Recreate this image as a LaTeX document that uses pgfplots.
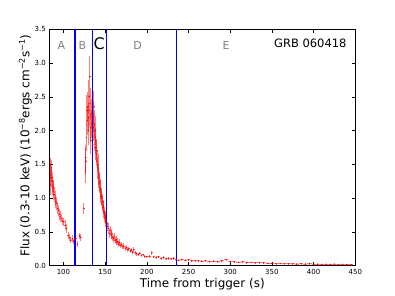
\documentclass[border=0pt]{standalone}
\usepackage{fontspec}
\setmainfont{DejaVu Sans}
\usepackage{pgfplots}
\usepackage{pgfplotstable}
\pgfplotsset{compat=1.18}
\pgfplotstableread{
x y ex ey
84.0 1.20 0.25 0.15
84.5 1.35 0.25 0.17
85.0 1.45 0.25 0.15
85.5 1.40 0.25 0.16
86.0 1.30 0.25 0.15
86.5 1.18 0.25 0.14
87.0 1.25 0.25 0.14
87.5 1.10 0.25 0.13
88.0 1.15 0.3 0.12
89.0 1.05 0.5 0.11
90.0 1.00 0.5 0.10
91.0 0.95 0.5 0.10
92.0 0.92 0.5 0.09
93.0 0.85 0.5 0.09
94.0 0.82 0.5 0.08
95.0 0.76 0.5 0.08
96.0 0.73 0.5 0.08
97.5 0.70 1.0 0.06
99.0 0.66 0.5 0.06
100.5 0.65 1.0 0.06
102.0 0.60 0.8 0.07
103.5 0.55 0.8 0.06
105.5 0.45 1.0 0.05
107.5 0.42 1.0 0.05
109.0 0.38 0.8 0.05
110.5 0.40 0.8 0.05
112.0 0.36 0.8 0.04
113.5 0.39 0.8 0.05
115.0 0.40 0.8 0.06
116.5 0.32 0.8 0.05
119.0 0.44 0.8 0.05
120.5 0.42 0.8 0.05
124.5 0.85 0.3 0.08
126.0 1.40 0.25 0.18
126.5 1.60 0.25 0.18
127.0 1.55 0.25 0.19
127.5 1.90 0.25 0.20
128.0 2.30 0.25 0.23
128.5 2.15 0.25 0.21
129.0 2.35 0.25 0.22
129.5 2.00 0.25 0.21
130.0 2.20 0.25 0.22
130.5 2.50 0.25 0.25
131.0 2.30 0.25 0.23
131.5 2.80 0.25 0.30
132.0 2.40 0.25 0.23
132.5 2.05 0.25 0.21
133.0 1.85 0.25 0.20
133.5 2.10 0.25 0.21
134.0 2.25 0.25 0.22
134.5 1.95 0.25 0.20
135.0 1.80 0.25 0.20
135.5 2.05 0.25 0.21
136.0 2.20 0.25 0.22
136.5 2.35 0.25 0.23
137.0 2.10 0.25 0.21
137.5 1.90 0.25 0.20
138.0 2.00 0.25 0.21
138.5 1.75 0.25 0.19
139.0 1.85 0.25 0.19
139.5 1.65 0.25 0.18
140.0 1.70 0.25 0.18
140.5 1.55 0.25 0.17
141.0 1.45 0.25 0.16
141.5 1.50 0.25 0.16
142.0 1.35 0.25 0.15
142.5 1.30 0.25 0.15
143.0 1.22 0.25 0.14
143.5 1.25 0.25 0.14
144.0 1.12 0.25 0.13
144.5 1.15 0.25 0.13
145.0 1.05 0.25 0.12
145.5 1.00 0.25 0.12
146.0 1.02 0.25 0.12
146.5 0.92 0.25 0.11
147.0 0.95 0.25 0.11
147.5 0.86 0.25 0.10
148.0 0.88 0.25 0.10
148.5 0.80 0.25 0.10
149.0 0.78 0.25 0.09
149.5 0.74 0.25 0.09
150.0 0.72 0.25 0.09
150.5 0.70 0.25 0.08
151.0 0.66 0.25 0.08
152.0 0.62 0.5 0.08
153.0 0.58 0.5 0.07
154.0 0.55 0.5 0.08
155.0 0.48 0.5 0.07
156.0 0.52 0.5 0.07
157.0 0.45 0.5 0.06
158.0 0.47 0.5 0.07
159.0 0.42 0.5 0.06
160.0 0.40 0.5 0.06
161.0 0.43 0.5 0.06
162.0 0.37 0.5 0.05
163.0 0.39 0.5 0.05
164.0 0.35 0.5 0.05
165.0 0.36 0.5 0.05
166.0 0.32 0.5 0.05
167.0 0.34 0.5 0.05
168.0 0.30 0.5 0.04
169.5 0.31 0.75 0.04
171.0 0.28 0.75 0.04
172.5 0.29 0.75 0.04
174.0 0.26 0.75 0.035
175.5 0.27 0.75 0.035
177.0 0.24 0.75 0.03
178.5 0.25 0.75 0.03
180.0 0.22 0.75 0.03
181.5 0.23 0.75 0.03
183.0 0.20 0.75 0.03
184.5 0.24 0.75 0.03
186.0 0.19 0.75 0.03
187.5 0.18 1 0.03
189.5 0.17 1 0.025
191.5 0.18 1 0.025
193.5 0.15 1 0.02
195.5 0.16 1 0.02
197.5 0.14 1 0.02
200.0 0.13 1.5 0.02
203.0 0.14 1.5 0.02
206.0 0.19 1 0.03
208.0 0.13 1 0.02
211.0 0.12 1.5 0.02
214.0 0.13 1.5 0.02
217.0 0.11 1.5 0.02
220.0 0.12 1.5 0.02
223.0 0.10 1.5 0.02
226.0 0.11 1.5 0.02
229.0 0.10 1.5 0.02
232.0 0.11 1.5 0.02
235.0 0.09 1.5 0.02
238.0 0.08 1.5 0.015
242.0 0.09 2 0.015
246.0 0.08 2 0.015
250.0 0.085 2 0.015
254.0 0.07 2 0.015
258.0 0.075 2 0.015
262.0 0.07 2 0.012
266.0 0.065 2 0.012
270.0 0.07 2 0.012
275.0 0.06 2.5 0.012
280.0 0.065 2.5 0.012
285.0 0.06 2.5 0.012
290.0 0.07 2.5 0.012
295.0 0.09 2 0.015
300.0 0.06 2.5 0.01
305.0 0.055 2.5 0.01
310.0 0.05 2.5 0.01
315.0 0.055 2.5 0.01
320.0 0.045 2.5 0.01
325.0 0.05 2.5 0.01
330.0 0.04 2.5 0.01
335.0 0.045 2.5 0.01
340.0 0.04 2.5 0.01
345.0 0.035 2.5 0.008
350.0 0.035 2.5 0.008
355.0 0.03 2.5 0.008
360.0 0.033 2.5 0.008
365.0 0.028 2.5 0.008
370.0 0.03 2.5 0.008
375.0 0.027 2.5 0.008
380.0 0.025 2.5 0.008
385.0 0.028 2.5 0.008
390.0 0.025 2.5 0.008
395.0 0.032 2.5 0.008
400.0 0.022 2.5 0.007
405.0 0.025 2.5 0.007
410.0 0.02 2.5 0.007
415.0 0.023 2.5 0.007
420.0 0.02 2.5 0.007
425.0 0.024 2.5 0.007
430.0 0.018 2.5 0.007
435.0 0.02 2.5 0.007
440.0 0.017 2.5 0.007
445.0 0.016 2.5 0.007
}\lcdata
\begin{document}
\begin{tikzpicture}
\begin{axis}[
  name=ax,
  scale only axis,
  width=306pt, height=236.4pt,
  xmin=83, xmax=450, ymin=0, ymax=3.5,
  axis line style={line width=0.8pt},
  tick align=inside,
  major tick length=3.5pt,
  tick style={black, line width=0.5pt},
  xtick={100,150,...,450},
  ytick={0,0.5,...,3.5},
  yticklabel style={/pgf/number format/.cd, fixed, fixed zerofill, precision=1},
  /pgf/number format/assume math mode=true,
  ticklabel style={font=\fontsize{7}{8}\selectfont},
  xlabel={Time from trigger (s)},
  ylabel={Flux (0.3-10 keV) (10\textsuperscript{−8}ergs cm\textsuperscript{−2}s\textsuperscript{−1})},
  label style={font=\fontsize{12}{14}\selectfont},
  xlabel style={at={(axis description cs:0.5,-0.0914)}, anchor=base, inner sep=0pt},
  ylabel style={at={(axis description cs:-0.0654,0.508)}, anchor=base, inner sep=0pt},
]
\addplot[red, only marks, mark=*, mark size=0.4pt,
  error bars/.cd, x dir=both, x explicit, y dir=both, y explicit,
  error mark=none, error bar style={red, opacity=0.5, line width=1pt}]
  table[x=x, y=y, x error=ex, y error=ey] {\lcdata};
\addplot[blue, line width=1.2pt] coordinates {(113.9,0) (113.9,3.5)};
\addplot[blue, line width=1.2pt] coordinates {(134.4,0) (134.4,3.5)};
\addplot[blue, line width=1.2pt] coordinates {(151.2,0) (151.2,3.5)};
\addplot[blue, line width=1.2pt] coordinates {(235.9,0) (235.9,3.5)};
\node[text=gray, font=\fontsize{11}{13}\selectfont, inner sep=0pt] at (axis cs:97.6,3.258) {A};
\node[text=gray, font=\fontsize{11}{13}\selectfont, inner sep=0pt] at (axis cs:122.7,3.258) {B};
\node[text=black, font=\fontsize{16}{18}\selectfont, inner sep=0pt] at (axis cs:142.8,3.28) {C};
\node[text=gray, font=\fontsize{11}{13}\selectfont, inner sep=0pt] at (axis cs:188.8,3.258) {D};
\node[text=gray, font=\fontsize{11}{13}\selectfont, inner sep=0pt] at (axis cs:295,3.258) {E};
\node[text=black, font=\fontsize{11.5}{13}\selectfont, inner sep=0pt, anchor=east] at (axis cs:439.7,3.287) {GRB 060418};
\end{axis}
\pgfresetboundingbox
\path ([shift={(-49.3pt,-30.3pt)}]ax.south west) rectangle ([shift={(39.7pt,29.3pt)}]ax.north east);
\end{tikzpicture}
\end{document}
